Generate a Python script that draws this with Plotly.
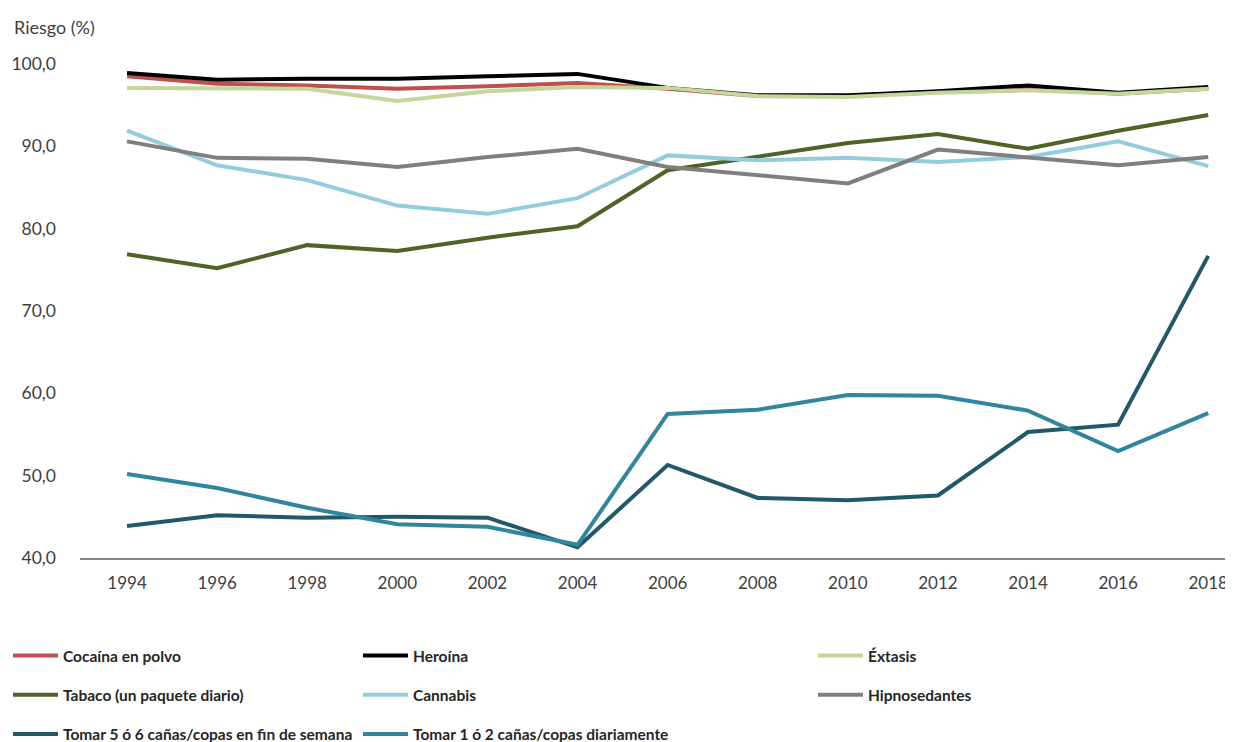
"""Riesgo percibido por consumo de sustancias, 1994-2018."""

import plotly.graph_objects as go

years = [1994, 1996, 1998, 2000, 2002, 2004, 2006, 2008, 2010, 2012, 2014, 2016, 2018]

cocaina = [98.5, 97.6, 97.4, 97.0, 97.3, 97.7, 97.0, 96.1, 96.1, 96.6, 97.0, 96.4, 97.0]
heroina = [98.9, 98.1, 98.2, 98.2, 98.5, 98.8, 97.1, 96.2, 96.2, 96.7, 97.4, 96.5, 97.2]
extasis = [97.1, 97.1, 97.0, 95.5, 96.7, 97.2, 97.1, 96.1, 96.0, 96.5, 96.8, 96.4, 97.0]
tabaco = [76.9, 75.2, 78.0, 77.3, 78.9, 80.3, 87.1, 88.7, 90.4, 91.5, 89.7, 91.9, 93.8]
cannabis = [91.9, 87.7, 85.9, 82.8, 81.8, 83.7, 88.9, 88.3, 88.6, 88.1, 88.7, 90.6, 87.6]
hipnosedantes = [90.6, 88.6, 88.5, 87.5, 88.7, 89.7, 87.5, 86.5, 85.5, 89.6, 88.6, 87.7, 88.7]
canas_finde = [43.9, 45.2, 44.9, 45.0, 44.9, 41.3, 51.3, 47.3, 47.0, 47.6, 55.3, 56.2, 76.7]
canas_diario = [50.2, 48.5, 46.1, 44.1, 43.8, 41.6, 57.5, 58.0, 59.8, 59.7, 57.9, 53.0, 57.6]

# (nombre, valores, color, columna de leyenda) en el orden de las series
series = [
    ("Cocaína en polvo", cocaina, "#C0504D", "legend"),
    ("Heroína", heroina, "#000000", "legend2"),
    ("Éxtasis", extasis, "#C3D69B", "legend3"),
    ("Tabaco (un paquete diario)", tabaco, "#4F6228", "legend"),
    ("Cannabis", cannabis, "#93CDDD", "legend2"),
    ("Hipnosedantes", hipnosedantes, "#7F7F7F", "legend3"),
    ("Tomar 5 ó 6 cañas/copas en fin de semana", canas_finde, "#215968", "legend"),
    ("Tomar 1 ó 2 cañas/copas diariamente", canas_diario, "#31859C", "legend2"),
]

FONT = "Lato, 'Liberation Sans', sans-serif"
TXT = "#404040"

# la página añade 8 px de margen al body: la figura es 8 px más pequeña
W, H = 1225, 734

fig = go.Figure()
for i, (name, vals, color, leg) in enumerate(series):
    fig.add_trace(
        go.Scatter(
            x=years,
            y=vals,
            name=name,
            mode="lines",
            line=dict(color=color, width=4),
            legend=leg,
            legendgroup=name,
            legendrank=i,
        )
    )

legend_common = dict(
    xref="container",
    yref="container",
    xanchor="left",
    yanchor="top",
    orientation="v",
    tracegroupgap=16,
    font=dict(family=FONT, size=15.5, color="#262626", weight="bold"),
    bgcolor="rgba(0,0,0,0)",
    itemwidth=45,
)
legend_top = 1 - 631 / H

fig.update_layout(
    width=W,
    height=H,
    margin=dict(l=72, r=0, t=56, b=184, autoexpand=False),
    paper_bgcolor="white",
    plot_bgcolor="white",
    separators=",.",
    font=dict(family=FONT, size=17.5, color=TXT),
    xaxis=dict(
        range=[1992.956, 2018.55],
        tickvals=years,
        tickangle=0,
        showgrid=False,
        zeroline=False,
        showline=True,
        linecolor="#868686",
        linewidth=2,
        ticks="",
        ticklabelstandoff=9,
        tickfont=dict(size=17, color=TXT),
    ),
    yaxis=dict(
        range=[40, 100],
        dtick=10,
        tickformat=".1f",
        showgrid=False,
        zeroline=False,
        showline=False,
        ticks="",
        ticklabelstandoff=23,
        tickfont=dict(size=17.5, color=TXT),
    ),
    legend=dict(x=0, y=legend_top, **legend_common),
    legend2=dict(x=350 / W, y=legend_top, **legend_common),
    legend3=dict(x=805 / W, y=legend_top, **legend_common),
    annotations=[
        dict(
            text="Riesgo (%)",
            xref="paper",
            yref="paper",
            x=0,
            xshift=-68,
            y=(550 - 19) / 494,
            xanchor="left",
            yanchor="middle",
            showarrow=False,
            font=dict(family=FONT, size=18, color=TXT),
        )
    ],
)

fig.write_html("out.html")
